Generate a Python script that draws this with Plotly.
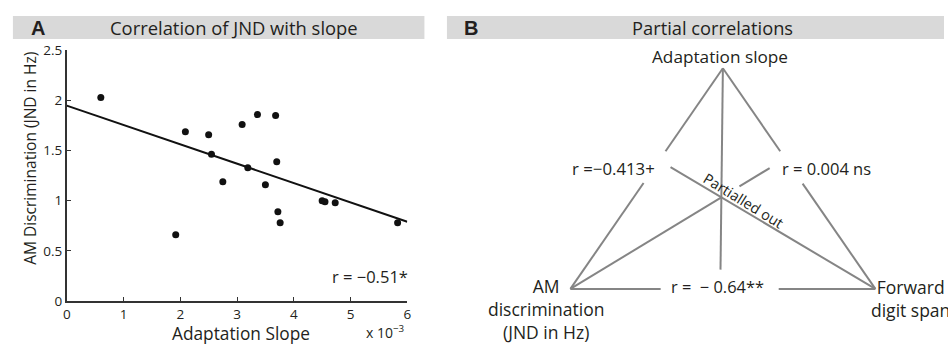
import plotly.graph_objects as go

W, H = 948, 352

# ---------------- Panel A data ----------------
slope_x = [0.60, 2.09, 2.50, 2.55, 3.09, 3.36, 3.68, 3.19, 3.70, 2.75, 3.50, 3.72, 3.76, 1.92, 4.50, 4.55, 4.73, 5.83]
jnd_y   = [2.03, 1.69, 1.66, 1.465, 1.76, 1.86, 1.85, 1.33, 1.39, 1.19, 1.16, 0.89, 0.78, 0.66, 1.00, 0.99, 0.98, 0.78]
fit_x = [0, 6]
fit_y = [1.95, 0.79]
x_ticks = [0, 1, 2, 3, 4, 5, 6]
y_ticks = [0, 0.5, 1, 1.5, 2, 2.5]
y_tick_labels = ["0", "0.5", "1", "1.5", "2", "2.5"]

# ---------------- Panel B diagram (normalised coords) ----------------
node_names = ["Adaptation slope", "AM<br>discrimination<br>(JND in Hz)", "Forward<br>digit span"]
node_x = [0.0, -1.0, 1.0]
node_y = [1.0, 0.0, 0.0]
hub = (-0.01, 0.415)
edge_labels = ["r =\u22120.413+", "r = 0.004 ns", "r =  \u2212 0.64**"]

TXT = "#231f20"
FONT = "Open Sans"

def px(x):
    return x / W
def py(y):
    return 1 - y / H

fig = go.Figure()

# Panel A
fig.add_trace(go.Scatter(x=fit_x, y=fit_y, mode="lines", line=dict(color="#111111", width=2),
                         xaxis="x", yaxis="y", hoverinfo="skip", showlegend=False, cliponaxis=False))
fig.add_trace(go.Scatter(x=slope_x, y=jnd_y, mode="markers", marker=dict(color="#111111", size=7),
                         xaxis="x", yaxis="y", showlegend=False, cliponaxis=False))

# Panel B lines
GRAY = "#858585"
def seg(p, q, t0, t1):
    return ([p[0] + (q[0] - p[0]) * t0, p[0] + (q[0] - p[0]) * t1],
            [p[1] + (q[1] - p[1]) * t0, p[1] + (q[1] - p[1]) * t1])

apex = (node_x[0], node_y[0]); left = (node_x[1], node_y[1]); right = (node_x[2], node_y[2])
segments = [
    seg(apex, left, 0, 0.376), seg(apex, left, 0.52, 1),
    seg(apex, right, 0, 0.376), seg(apex, right, 0.523, 1),
    seg(left, right, 0, 0.296), seg(left, right, 0.683, 1),
    seg(apex, hub, 0, 1.56),
    seg(left, hub, 0, 1.0), seg(left, hub, 1.12, 1.32),
    seg(right, hub, 0, 1.33),
]
for sx, sy in segments:
    fig.add_trace(go.Scatter(x=sx, y=sy, mode="lines", line=dict(color=GRAY, width=2),
                             xaxis="x2", yaxis="y2", hoverinfo="skip", showlegend=False))

# axes geometry (page pixels)
ax_l, ax_r, ax_t, ax_b = 63.3, 406.7, 43.7, 307.7
fig.update_layout(
    width=W, height=H, margin=dict(l=0, r=0, t=0, b=0),
    paper_bgcolor="white", plot_bgcolor="rgba(0,0,0,0)",
    font=dict(family=FONT, color=TXT),
    xaxis=dict(domain=[px(ax_l), px(ax_r)], range=[0, 6], tickvals=x_ticks, ticks="inside", ticklen=4,
               tickcolor="#333", showgrid=False, zeroline=False, showline=True, linecolor="#333", linewidth=1.5,
               tickfont=dict(size=13.5, family=FONT, color=TXT), anchor="y"),
    yaxis=dict(domain=[py(ax_b), py(ax_t)], range=[0, 2.5], tickvals=y_ticks, ticktext=y_tick_labels,
               ticks="inside", ticklen=4, tickcolor="#333", showgrid=False, zeroline=False, showline=True,
               linecolor="#333", linewidth=1.5, tickfont=dict(size=13.5, family=FONT, color=TXT), anchor="x"),
)

# panel B axes
ppx, ppy = 153.8, 232.5
cx, by = 725.0, 295.0
xr = [-1.1, 1.1]; yr = [-0.1, 1.1]
fig.update_layout(
    xaxis2=dict(domain=[px(cx + xr[0] * ppx), px(cx + xr[1] * ppx)], range=xr, visible=False, anchor="y2"),
    yaxis2=dict(domain=[py(by - yr[0] * ppy), py(by - yr[1] * ppy)], range=yr, visible=False, anchor="x2"),
)

shapes = [
    dict(type="rect", xref="paper", yref="paper", x0=px(9), x1=px(424), y0=py(31.7), y1=py(7.3),
         fillcolor="#d9d9d9", line=dict(width=0), layer="below"),
    dict(type="rect", xref="paper", yref="paper", x0=px(446.7), x1=1, y0=py(31.7), y1=py(7.3),
         fillcolor="#d9d9d9", line=dict(width=0), layer="below"),
]
fig.update_layout(shapes=shapes)

ann = []
def A(text, x, y, size, xa="center", ya="middle", **kw):
    ann.append(dict(text=text, x=px(x), y=py(y), xref="paper", yref="paper", xanchor=xa, yanchor=ya,
                    showarrow=False, font=kw.pop("font", dict(size=size)), **kw))

BOLD = dict(family="Liberation Sans", size=20, color=TXT)
A("<b>A</b>", 34.5, 20, 20, font=BOLD)
A("<b>B</b>", 471, 20, 20, font=BOLD)
A("Correlation of JND with slope", 232, 20, 18.4)
A("Partial correlations", 714.5, 20, 18.3)
A("AM Discrimination (JND in Hz)", 26.5, 157.5, 15.5, textangle=-90)
A("Adaptation Slope", 239, 341.5, 17.3)
A("x 10<sup>\u22123</sup>", 385, 340.5, 14)
A("r = \u22120.51*", 409, 281.7, 16.5, xa="right")

# Panel B labels
A(node_names[0], 722, 50, 17.2)
A(node_names[1], 546.7, 316, 17.5)
A(node_names[2], 914, 305.3, 17.5)
A(edge_labels[0], 659, 168, 16.8, xa="right")
A(edge_labels[1], 783, 168, 16.5, xa="left")
A(edge_labels[2], 719.5, 292, 16.4)
A("Partialled out", 745.7, 202.3, 14.5, textangle=31.6)
fig.update_layout(annotations=ann)

fig.write_html("out.html")
